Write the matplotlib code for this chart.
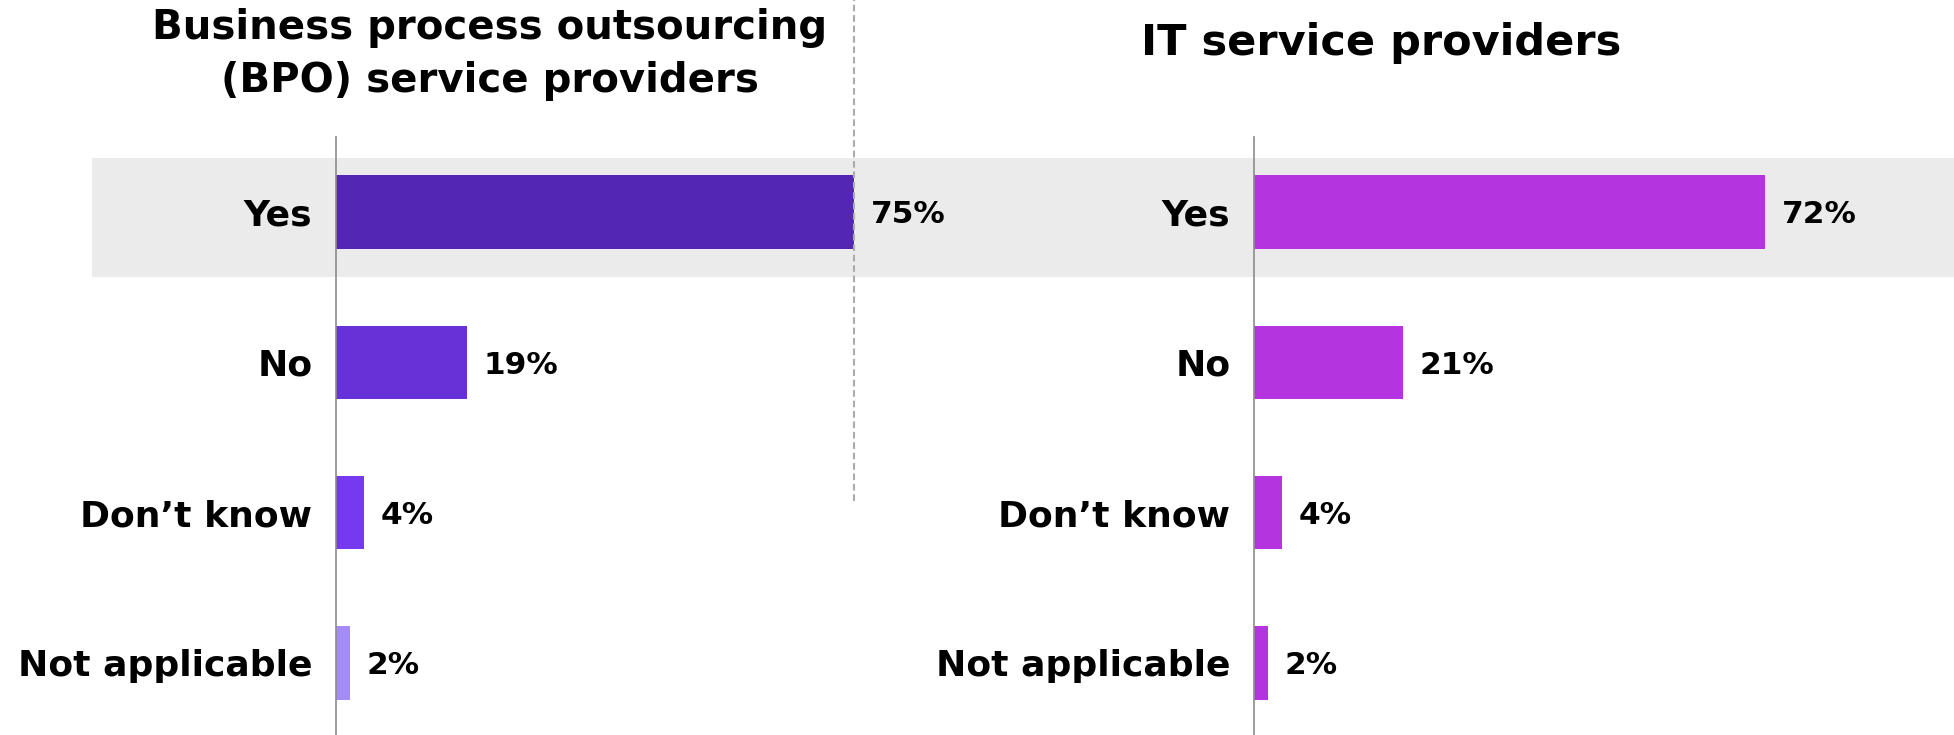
import matplotlib
matplotlib.use("Agg")
import matplotlib.pyplot as plt
import matplotlib.transforms as mtransforms
from matplotlib.patches import Rectangle

# Survey answers, shared by both panels
categories = ["Yes", "No", "Don\u2019t know", "Not applicable"]

bpo_title = ["Business process outsourcing", "(BPO) service providers"]
bpo_values = [75, 19, 4, 2]
bpo_colors = ["#5327B3", "#6631D6", "#7539EF", "#A58CF5"]

it_title = ["IT service providers"]
it_values = [72, 21, 4, 2]
it_colors = ["#B435E0", "#B435E0", "#B435E0", "#B435E0"]

plt.rcParams["font.family"] = ["DejaVu Sans"]
plt.rcParams["font.weight"] = "bold"

W, H = 1954, 735
fig = plt.figure(figsize=(W / 100, H / 100), dpi=100)


def axes_px(left, top, right, bottom):
    return fig.add_axes([left / W, 1 - bottom / H, (right - left) / W, (bottom - top) / H])


def draw_panel(ax, values, colors, xmax):
    y = list(range(len(categories)))
    ax.barh(y, values, height=0.49, color=colors, zorder=3)
    ax.set_xlim(0, xmax)
    ax.set_ylim(len(categories) - 1 + 0.48, -0.5)
    ax.set_yticks(y)
    ax.set_yticklabels(categories, fontsize=26, fontweight="bold", color="black")
    ax.tick_params(axis="y", length=0, pad=17)
    ax.set_xticks([])
    for side in ("top", "right", "bottom"):
        ax.spines[side].set_visible(False)
    ax.spines["left"].set_color("#8C8C8C")
    ax.spines["left"].set_linewidth(1.2)
    ax.spines["left"].set_zorder(4)
    ax.patch.set_visible(False)
    for yi, v in zip(y, values):
        ax.annotate(f"{v}%", xy=(v, yi), xytext=(12, -2), textcoords="offset points",
                    ha="left", va="center", fontsize=22.5, fontweight="bold",
                    color="black", zorder=5)


ax_l = axes_px(336, 137, 900, 735)
ax_r = axes_px(1254, 137, 1954, 735)

# highlighted row behind the "Yes" answers, spanning both panels
band_tf = mtransforms.blended_transform_factory(fig.transFigure, ax_l.transData)
ax_l.add_patch(Rectangle((92 / W, -0.36), 1 - 92 / W, 0.79, transform=band_tf,
                         facecolor="#EBEBEB", edgecolor="none", zorder=0, clip_on=False))

draw_panel(ax_l, bpo_values, bpo_colors, 564 / 6.91)
draw_panel(ax_r, it_values, it_colors, 700 / 7.1)

# dashed marker at the BPO "Yes" level
ax_l.axvline(bpo_values[0], ymin=0.391, ymax=1.25, color="#ABABAB", lw=1.5,
             ls=(0, (3.2, 1.8)), clip_on=False, zorder=4)

for i, line in enumerate(bpo_title):
    fig.text(490 / W, 1 - (39.5 + 52.3 * i) / H, line, ha="center", va="baseline",
             fontsize=29, fontweight="bold", color="black")
for i, line in enumerate(it_title):
    fig.text(1381 / W, 1 - 55 / H, line, ha="center", va="baseline",
             fontsize=31, fontweight="bold", color="black")

fig.savefig("out.png", dpi=100, facecolor="white")
